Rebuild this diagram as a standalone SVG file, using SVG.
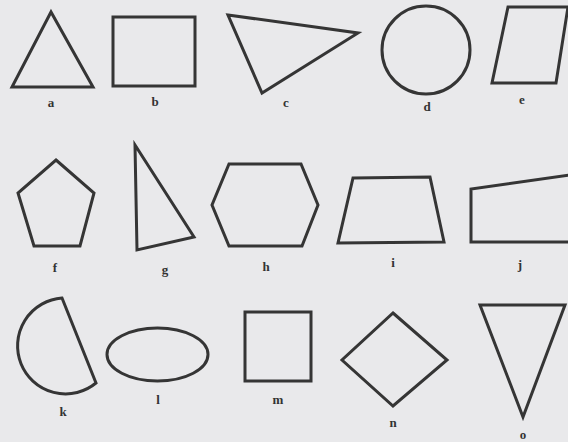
<svg xmlns="http://www.w3.org/2000/svg" width="568" height="442" viewBox="0 0 568 442">
<style>
.s{fill:none;stroke:#353535;stroke-width:3;stroke-linejoin:miter}
.t{font-family:"Liberation Serif",serif;font-weight:bold;font-size:13px;fill:#333;text-anchor:middle}
</style>
<rect width="568" height="442" fill="#e9e9eb"/>
<g id="a"><polygon class="s" points="51,12 12,87 93,87"/><text class="t" x="51" y="107">a</text></g>
<g id="b"><rect class="s" x="113" y="17" width="82" height="69"/><text class="t" x="155" y="106">b</text></g>
<g id="c"><polygon class="s" points="228,15 358,33 262,93"/><text class="t" x="286" y="107">c</text></g>
<g id="d"><circle class="s" cx="426" cy="50" r="44"/><text class="t" x="427" y="111">d</text></g>
<g id="e"><polygon class="s" points="508,7 568,7 556,83 492,83"/><text class="t" x="522" y="104">e</text></g>
<g id="f"><polygon class="s" points="56,160 94,193 80,246 34,246 18,193"/><text class="t" x="55" y="272">f</text></g>
<g id="g"><polygon class="s" points="135,145 137,250 194,237"/><text class="t" x="165" y="274">g</text></g>
<g id="h"><polygon class="s" points="229,164 301,164 318,205 302,246 229,246 212,205"/><text class="t" x="266" y="271">h</text></g>
<g id="i"><polygon class="s" points="353,178 430,177 444,242 338,243"/><text class="t" x="393" y="267">i</text></g>
<g id="j"><polyline class="s" points="569,175 471,189 471,242 569,242"/><text class="t" x="520" y="269">j</text></g>
<g id="k"><path class="s" d="M62,298 L96,383 A48,48 0 1 1 62,298 Z"/><text class="t" x="63" y="416">k</text></g>
<g id="l"><ellipse class="s" cx="157.5" cy="354.5" rx="50.5" ry="26.5"/><text class="t" x="158" y="404">l</text></g>
<g id="m"><rect class="s" x="245" y="312" width="66" height="69"/><text class="t" x="278" y="404">m</text></g>
<g id="n"><polygon class="s" points="393,313 447,360 393,406 342,360"/><text class="t" x="393" y="427">n</text></g>
<g id="o"><polygon class="s" points="480,305 565,305 523,417"/><text class="t" x="523" y="439">o</text></g>
</svg>
